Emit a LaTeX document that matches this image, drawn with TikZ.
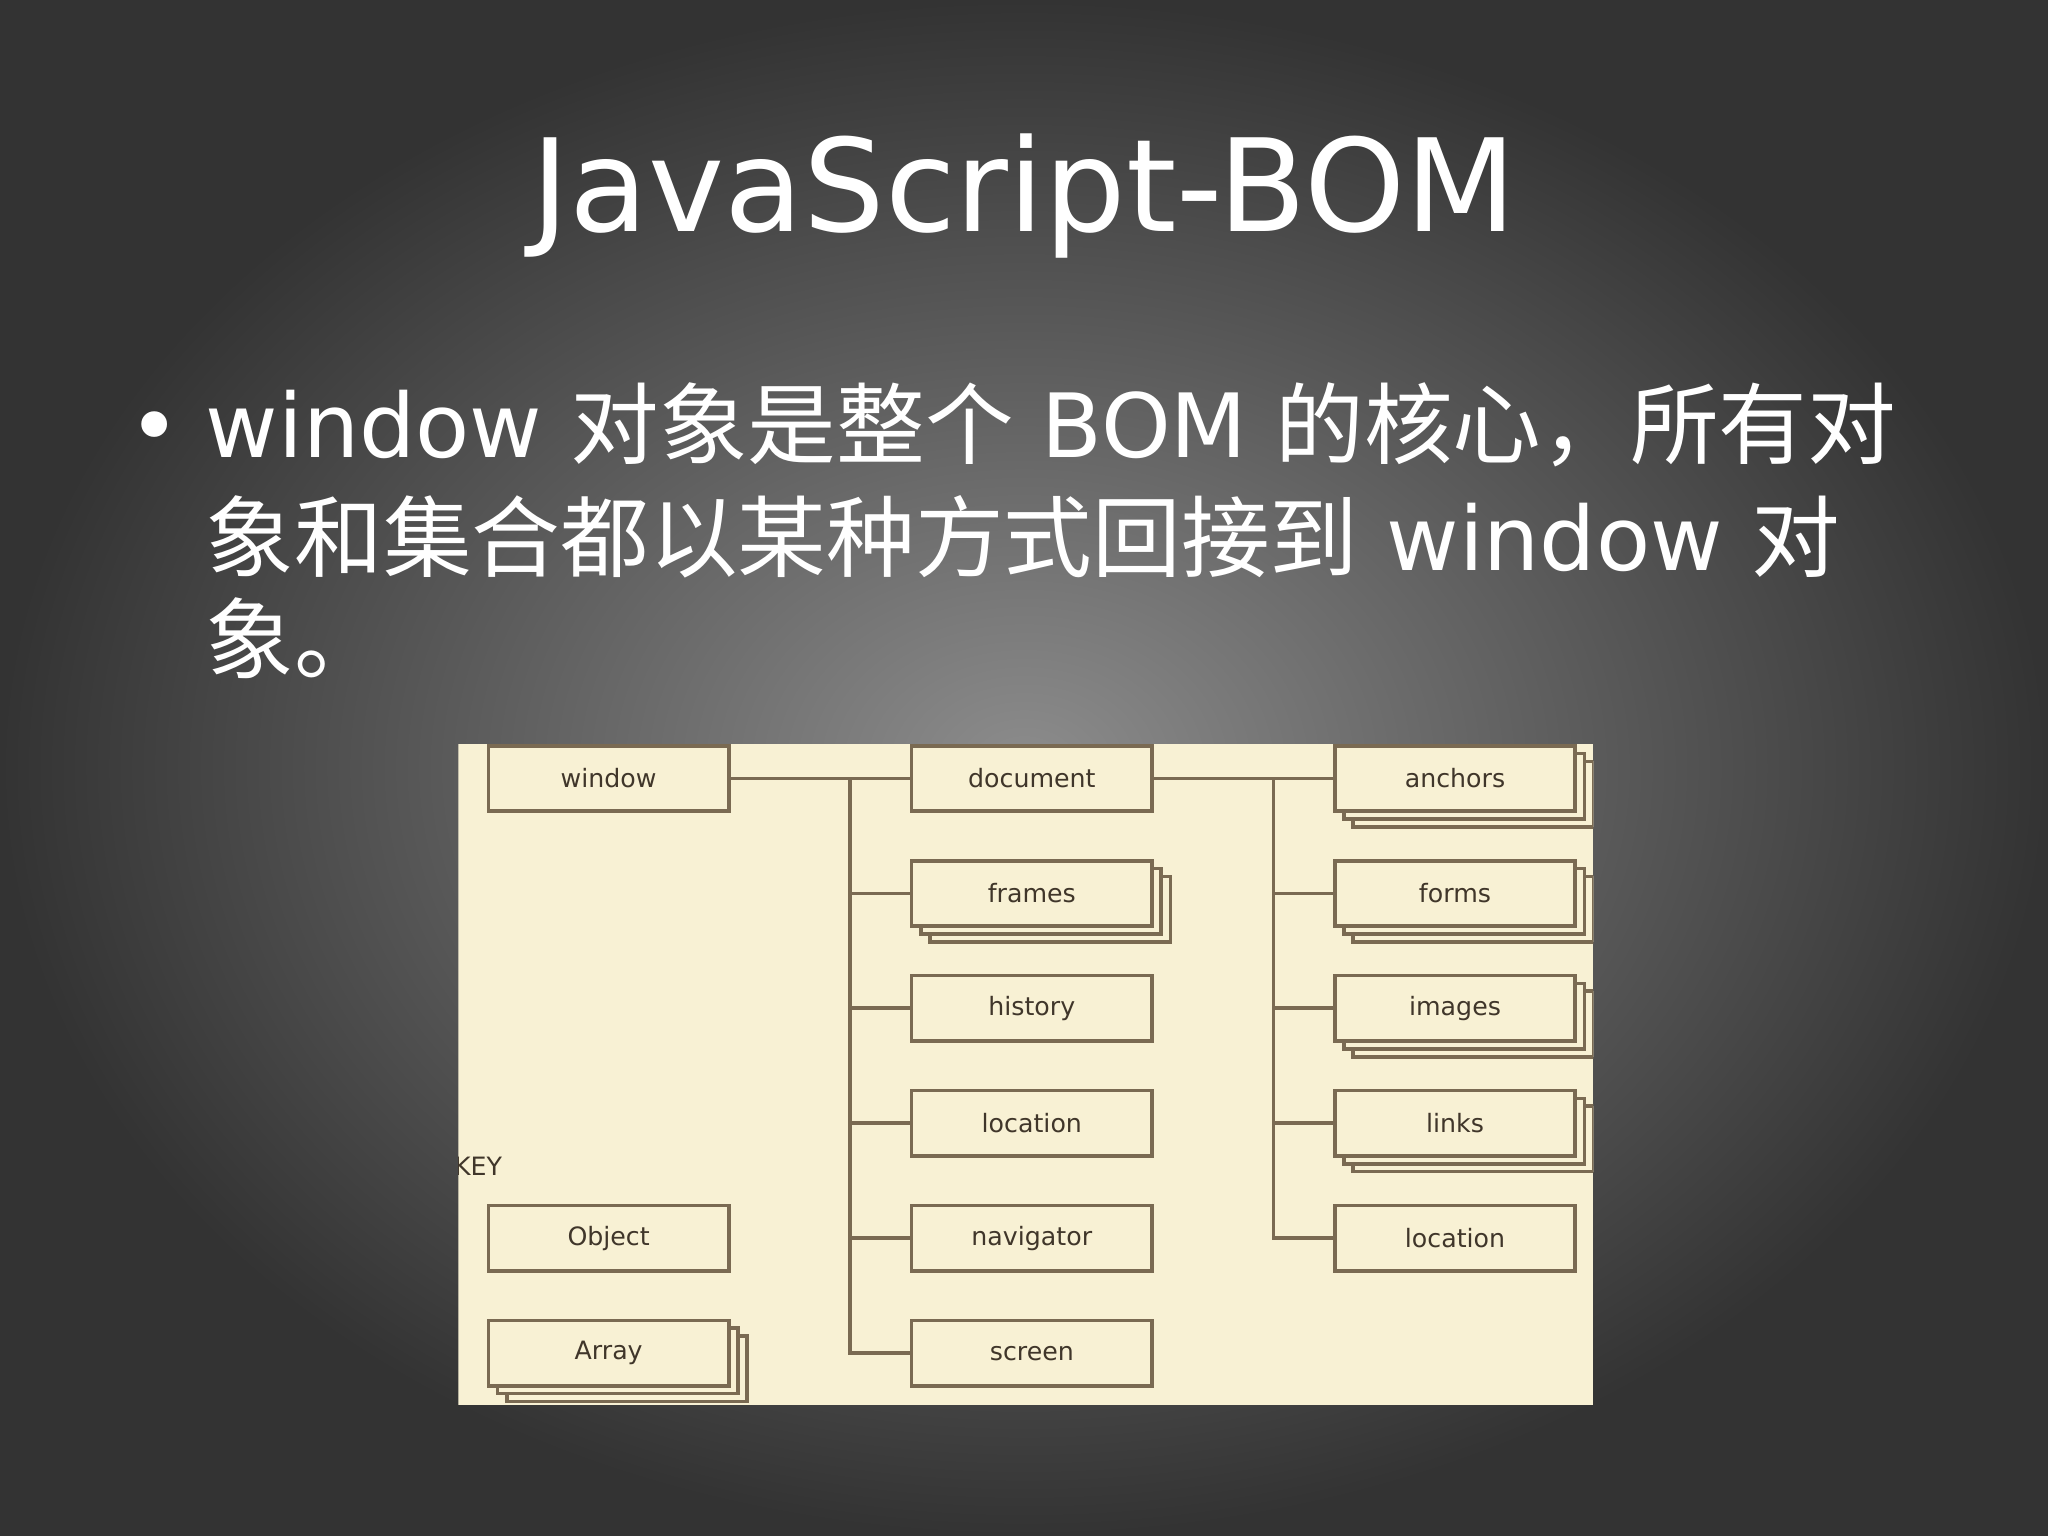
\documentclass[tikz,border=0pt]{standalone}
\usepackage{fontspec}
\setmainfont{DejaVu Sans}
\newfontfamily\cjk{Noto Sans CJK SC}
\usetikzlibrary{shadows}
\definecolor{cream}{HTML}{F8F1D4}
\definecolor{brline}{HTML}{7A6A52}
\definecolor{brtext}{HTML}{40362A}
\tikzset{
  objbox/.style={draw=brline, fill=cream, thick, minimum width=1.84cm,
    minimum height=0.5cm, inner sep=0pt, font=\fontsize{5.5}{7}\selectfont, text=brtext},
  arrbox/.style={objbox, double copy shadow={shadow xshift=0.07cm,
    shadow yshift=-0.06cm, fill=cream, draw=brline, thick}},
  conn/.style={draw=brline, thick},
  line/.style={anchor=base west, text=white, inner sep=0pt, font=\fontsize{19.3}{24}\selectfont}
}
\begin{document}
\begin{tikzpicture}[x=0.01cm,y=-0.01cm]
\useasboundingbox (0,0) rectangle (1568,1176);
\shade[inner color=black!45, outer color=black!80] (0,0) rectangle (1568,1176);

% title and bullet
\node[text=white, font=\fontsize{28}{34}\selectfont] (title) at (784,150) {JavaScript-BOM};
\node[line] (dot) at (98,350) {•};
\node[line] (l1) at (157,350) {window {\cjk 对象是整个} BOM {\cjk 的核心，所有对}};
\node[line] (l2) at (157,437) {{\cjk 象和集合都以某种方式回接到} window {\cjk 对}};
\node[line] (l3) at (157,515) {{\cjk 象。}};

% diagram
\begin{scope}
\clip (351,570) rectangle (1220,1076);
\fill[cream] (351,570) rectangle (1220,1076);
\node[objbox] (window) at (466,596) {window};
\node[objbox] (document) at (790,596) {document};
\node[arrbox] (frames) at (790,684) {frames};
\node[objbox] (history) at (790,772) {history};
\node[objbox] (location) at (790,860) {location};
\node[objbox] (navigator) at (790,948) {navigator};
\node[objbox] (screen) at (790,1036) {screen};
\node[arrbox] (anchors) at (1114,596) {anchors};
\node[arrbox] (forms) at (1114,684) {forms};
\node[arrbox] (images) at (1114,772) {images};
\node[arrbox] (links) at (1114,860) {links};
\node[objbox] (doclocation) at (1114,948) {location};
\node[anchor=west, inner sep=0pt, font=\fontsize{5.5}{7}\selectfont, text=brtext] (key) at (347,893) {KEY};
\node[objbox] (object) at (466,948) {Object};
\node[arrbox] (array) at (466,1036) {Array};

\coordinate (wtrunk) at (651,596);
\coordinate (dtrunk) at (975,596);
\draw[conn] (window) -- (document);
\draw[conn] (document) -- (anchors);
\foreach \n in {frames,history,location,navigator,screen}
  \draw[conn] (wtrunk) |- (\n.west);
\foreach \n in {forms,images,links,doclocation}
  \draw[conn] (dtrunk) |- (\n.west);
\end{scope}
\end{tikzpicture}
\end{document}
